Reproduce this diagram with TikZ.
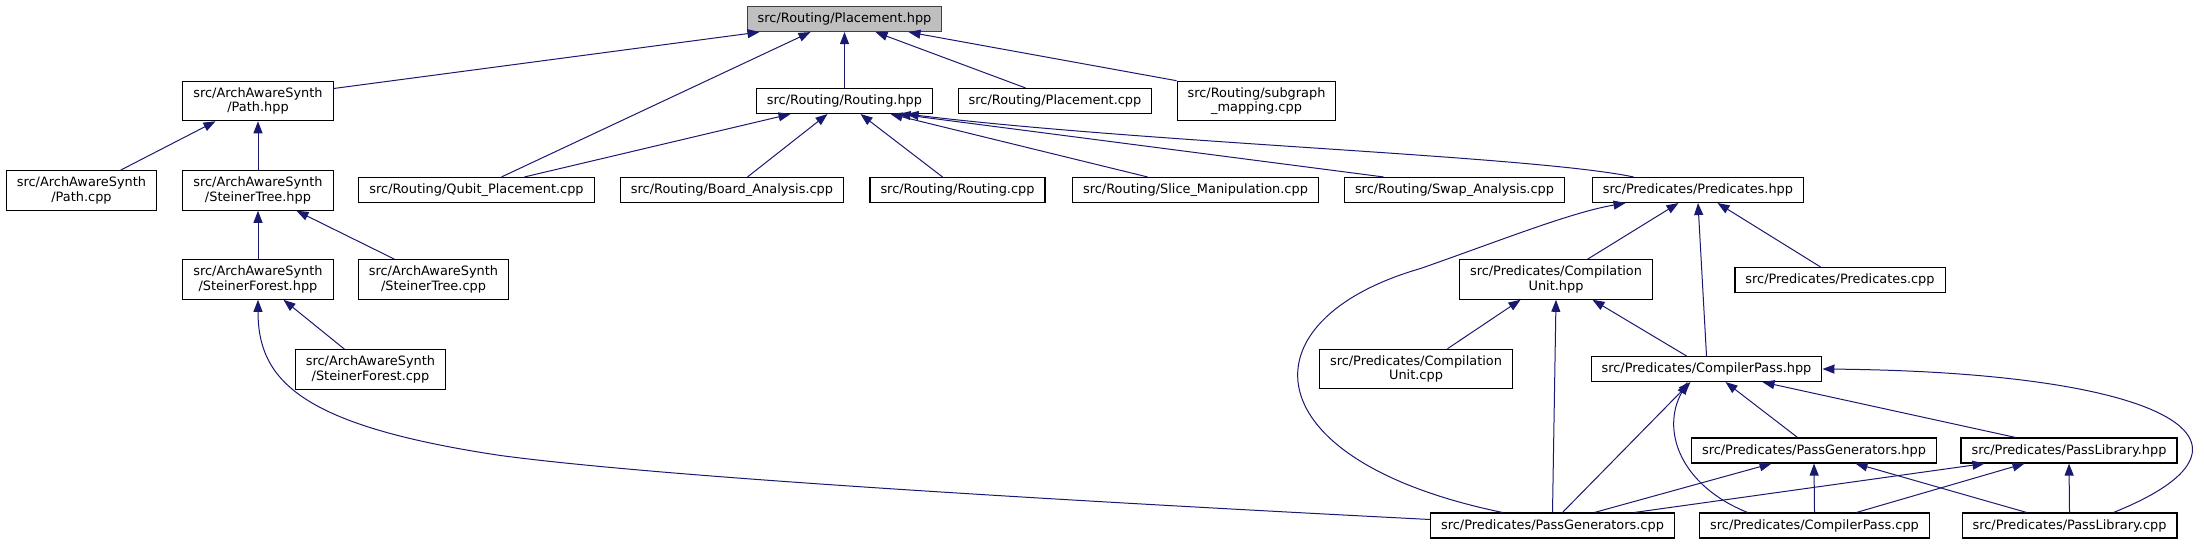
\documentclass[tikz,border=0pt]{standalone}
\usepackage{fontspec}
\setmainfont{DejaVu Sans}
\usepackage{xcolor}
\usepackage{tikz}
\usetikzlibrary{arrows.meta}
\definecolor{edgeblue}{HTML}{191970}
\definecolor{maingray}{HTML}{BFBFBF}
\definecolor{mainborder}{HTML}{404040}
\tikzset{
  filebox/.style={rectangle,draw=black,fill=white,line width=1.1bp,
    inner xsep=10.5bp,inner ysep=2bp,minimum height=25bp,align=center,
    font=\fontsize{12.9bp}{14.5bp}\selectfont},
  filebox2/.style={filebox,minimum height=39.5bp},
  mainfile/.style={filebox,draw=mainborder,fill=maingray},
  dep/.style={-{Triangle[length=12bp,width=9bp]},line width=1bp,draw=edgeblue}
}
\begin{document}
\begin{tikzpicture}[x=1bp,y=-1bp]
\useasboundingbox (-0.5,-0.5) rectangle (2203.5,543.5);
\node[mainfile] (placehpp) at (844,18.5) {src/Routing/Placement.hpp};
\node[filebox2] (pathhpp) at (257.5,100.5) {src/ArchAwareSynth\\/Path.hpp};
\node[filebox] (routinghpp) at (844,100.5) {src/Routing/Routing.hpp};
\node[filebox] (placecpp) at (1054.5,100.5) {src/Routing/Placement.cpp};
\node[filebox2] (subgraphcpp) at (1256,100.5) {src/Routing/subgraph\\\_mapping.cpp};
\node[filebox2] (pathcpp) at (81,190) {src/ArchAwareSynth\\/Path.cpp};
\node[filebox2] (sthpp) at (257.5,190) {src/ArchAwareSynth\\/SteinerTree.hpp};
\node[filebox] (qubitcpp) at (476,189.5) {src/Routing/Qubit\_Placement.cpp};
\node[filebox] (boardcpp) at (731.5,189.5) {src/Routing/Board\_Analysis.cpp};
\node[filebox] (routingcpp) at (957,189.5) {src/Routing/Routing.cpp};
\node[filebox] (slicecpp) at (1195,189.5) {src/Routing/Slice\_Manipulation.cpp};
\node[filebox] (swapcpp) at (1454,189.5) {src/Routing/Swap\_Analysis.cpp};
\node[filebox] (predhpp) at (1697.5,189.5) {src/Predicates/Predicates.hpp};
\node[filebox2] (sfhpp) at (257.5,279) {src/ArchAwareSynth\\/SteinerForest.hpp};
\node[filebox2] (stcpp) at (433,279) {src/ArchAwareSynth\\/SteinerTree.cpp};
\node[filebox2] (sfcpp) at (370,369) {src/ArchAwareSynth\\/SteinerForest.cpp};
\node[filebox2] (cuhpp) at (1555.5,279) {src/Predicates/Compilation\\Unit.hpp};
\node[filebox] (predcpp) at (1839.5,279.5) {src/Predicates/Predicates.cpp};
\node[filebox2] (cucpp) at (1415.5,368.5) {src/Predicates/Compilation\\Unit.cpp};
\node[filebox] (cphpp) at (1706,368.5) {src/Predicates/CompilerPass.hpp};
\node[filebox] (pghpp) at (1813.5,450) {src/Predicates/PassGenerators.hpp};
\node[filebox] (plhpp) at (2068.5,450) {src/Predicates/PassLibrary.hpp};
\node[filebox] (pgcpp) at (1552,525) {src/Predicates/PassGenerators.cpp};
\node[filebox] (cpcpp) at (1814,525) {src/Predicates/CompilerPass.cpp};
\node[filebox] (plcpp) at (2069,525) {src/Predicates/PassLibrary.cpp};
% Placement.hpp
\draw[dep] ([yshift=12.5bp]pathhpp.east) -- ([xshift=-85bp]placehpp.south);
\draw[dep] ([xshift=25bp]qubitcpp.north) -- ([xshift=-34bp]placehpp.south);
\draw[dep] (routinghpp.north) -- (placehpp.south);
\draw[dep] ([xshift=-29.5bp]placecpp.north) -- ([xshift=31bp]placehpp.south);
\draw[dep] (subgraphcpp.north west) -- ([xshift=64bp]placehpp.south);
% Routing.hpp
\draw[dep] ([xshift=48bp]qubitcpp.north) -- ([xshift=-54bp]routinghpp.south);
\draw[dep] ([xshift=15.5bp]boardcpp.north) -- ([xshift=-17bp]routinghpp.south);
\draw[dep] ([xshift=-15bp]routingcpp.north) -- ([xshift=16bp]routinghpp.south);
\draw[dep] ([xshift=-48bp]slicecpp.north) -- ([xshift=46bp]routinghpp.south);
\draw[dep] ([xshift=-71bp]swapcpp.north) -- ([xshift=54bp]routinghpp.south);
\draw[dep] ([xshift=-64.5bp]predhpp.north) .. controls (1530,155) and (1150,143) .. ([xshift=62bp]routinghpp.south);
% ArchAwareSynth
\draw[dep] ([xshift=39bp]pathcpp.north) -- ([xshift=-42.5bp]pathhpp.south);
\draw[dep] (sthpp.north) -- (pathhpp.south);
\draw[dep] (sfhpp.north) -- (sthpp.south);
\draw[dep] ([xshift=-39bp]stcpp.north) -- ([xshift=38.5bp]sthpp.south);
\draw[dep] ([xshift=-26bp]sfcpp.north) -- ([xshift=25.5bp]sfhpp.south);
\draw[dep] ([yshift=6bp]pgcpp.west) .. controls (1000,497) and (650,475) .. (500,455)
  .. controls (300,425) and (257.5,380) .. (sfhpp.south);
% Predicates.hpp
\draw[dep] ([xshift=-50bp]pgcpp.north) .. controls (1250,460) and (1240,320) .. (1420,268)
  .. controls (1500,240) and (1570,212) .. ([xshift=-72.5bp]predhpp.south);
\draw[dep] ([xshift=31.5bp]cuhpp.north) -- ([xshift=-19.5bp]predhpp.south);
\draw[dep] (cphpp.north) -- (predhpp.south);
\draw[dep] ([xshift=-19.5bp]predcpp.north) -- ([xshift=19.5bp]predhpp.south);
% CompilationUnit.hpp
\draw[dep] ([xshift=31.5bp]cucpp.north) -- ([xshift=-35.5bp]cuhpp.south);
\draw[dep] (pgcpp.north) -- (cuhpp.south);
\draw[dep] ([xshift=-20bp]cphpp.north) -- ([xshift=36.5bp]cuhpp.south);
% CompilerPass.hpp
\draw[dep] ([xshift=10bp]pgcpp.north) -- ([xshift=-16bp]cphpp.south);
\draw[dep] ([xshift=-67bp]cpcpp.north) .. controls (1680,485) and (1660,430) .. ([xshift=-19bp]cphpp.south);
\draw[dep] ([xshift=-16.5bp]pghpp.north) -- ([xshift=19bp]cphpp.south);
\draw[dep] ([xshift=-53.5bp]plhpp.north) -- ([xshift=56bp]cphpp.south);
\draw[dep] ([xshift=44bp]plcpp.north) .. controls (2280,445) and (2180,372) .. (cphpp.east);
% PassGenerators.hpp and PassLibrary.hpp
\draw[dep] ([xshift=42bp]pgcpp.north) -- ([xshift=-42.5bp]pghpp.south);
\draw[dep] (cpcpp.north) -- (pghpp.south);
\draw[dep] ([xshift=-43bp]plcpp.north) -- ([xshift=41.5bp]pghpp.south);
\draw[dep] ([xshift=82bp]pgcpp.north) -- ([xshift=-84.5bp]plhpp.south);
\draw[dep] ([xshift=42bp]cpcpp.north) -- ([xshift=-44.5bp]plhpp.south);
\draw[dep] (plcpp.north) -- (plhpp.south);
\end{tikzpicture}
\end{document}
